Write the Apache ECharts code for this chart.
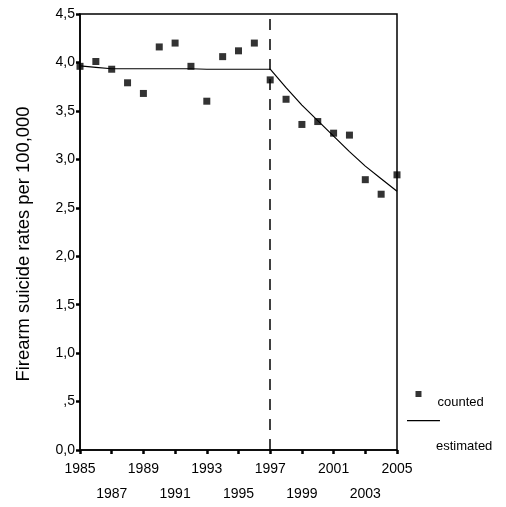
<!DOCTYPE html>
<html><head><meta charset="utf-8">
<script src="https://cdn.jsdelivr.net/npm/echarts@6/dist/echarts.min.js"></script>
<style>html,body{margin:0;padding:0;background:#fff}#c{width:506px;height:507px}</style>
</head><body><div id="c"></div>
<script>
var years = [1985,1986,1987,1988,1989,1990,1991,1992,1993,1994,1995,1996,1997,1998,1999,2000,2001,2002,2003,2004,2005];
var counted = [3.96,4.01,3.93,3.79,3.68,4.16,4.20,3.96,3.60,4.06,4.12,4.20,3.82,3.62,3.36,3.39,3.27,3.25,2.79,2.64,2.84];
var estimated = [3.965,3.95,3.935,3.935,3.935,3.935,3.935,3.935,3.93,3.93,3.93,3.93,3.93,3.74,3.56,3.40,3.24,3.08,2.93,2.80,2.67];
var breakYear = 1997;
var yTitle = 'Firearm suicide rates per 100,000';

var FONT = 'Liberation Sans, Arial, sans-serif';
var chart = echarts.init(document.getElementById('c'), null, {renderer:'canvas'});
chart.setOption({
  animation:false,
  backgroundColor:'#fff',
  grid:{left:80,right:109,top:14,bottom:55,show:true,borderColor:'#000',borderWidth:1.5,backgroundColor:'transparent'},
  xAxis:{type:'value',min:1985,max:2005,interval:2,
    axisLine:{show:true,lineStyle:{color:'#000',width:1.5}},
    axisTick:{show:true,length:4,lineStyle:{color:'#000',width:2.5}},
    splitLine:{show:false},
    axisLabel:{color:'#000',fontFamily:FONT,fontSize:14,margin:7,lineHeight:25,
      formatter:function(v){return ((v-1985)/2)%2===1 ? '\n'+v : String(v);}}
  },
  yAxis:{type:'value',min:0,max:4.5,interval:0.5,
    name:yTitle,nameLocation:'middle',nameGap:47,nameRotate:90,
    nameTextStyle:{color:'#000',fontFamily:FONT,fontSize:18.4,padding:[0,24,0,0]},
    axisLine:{show:true,lineStyle:{color:'#000',width:1.5}},
    axisTick:{show:true,length:4,lineStyle:{color:'#000',width:2.5}},
    splitLine:{show:false},
    axisLabel:{color:'#000',fontFamily:FONT,fontSize:14,margin:5,
      formatter:function(v){var s=v.toFixed(1).replace('.',','); if(v>0&&v<1) s=s.slice(1); return s;}}
  },
  legend:[
    {data:[{name:'counted',icon:'path://M0,0 H6 V6 H0 Z M0,23 H0.05 V23.05 H0 Z'}],orient:'vertical',left:415.5,top:391,padding:0,itemWidth:6,itemHeight:23,
      textStyle:{color:'#000',fontFamily:FONT,fontSize:13,padding:[0,0,0,11]}},
    {data:[{name:'estimated',icon:'path://M0,0 H33 V1.3 H0 Z M0,52 H0.05 V52.05 H0 Z'}],orient:'vertical',left:407,top:420,padding:0,itemWidth:33,itemHeight:52,
      textStyle:{color:'#000',fontFamily:FONT,fontSize:13,padding:[0,0,0,-9]}}
  ],
  series:[
    {name:'counted',type:'scatter',symbol:'rect',symbolSize:7,itemStyle:{color:'#000'},
      data:years.map(function(y,i){return [y,counted[i]];}),z:3},
    {name:'estimated',type:'line',symbol:'none',lineStyle:{color:'#000',width:1.2},itemStyle:{color:'#000'},
      data:years.map(function(y,i){return [y,estimated[i]];}),
      markLine:{silent:true,symbol:'none',label:{show:false},
        lineStyle:{color:'#000',width:1.5,type:[11,9]},
        data:[{xAxis:breakYear}]}}
  ]
});
</script></body></html>
